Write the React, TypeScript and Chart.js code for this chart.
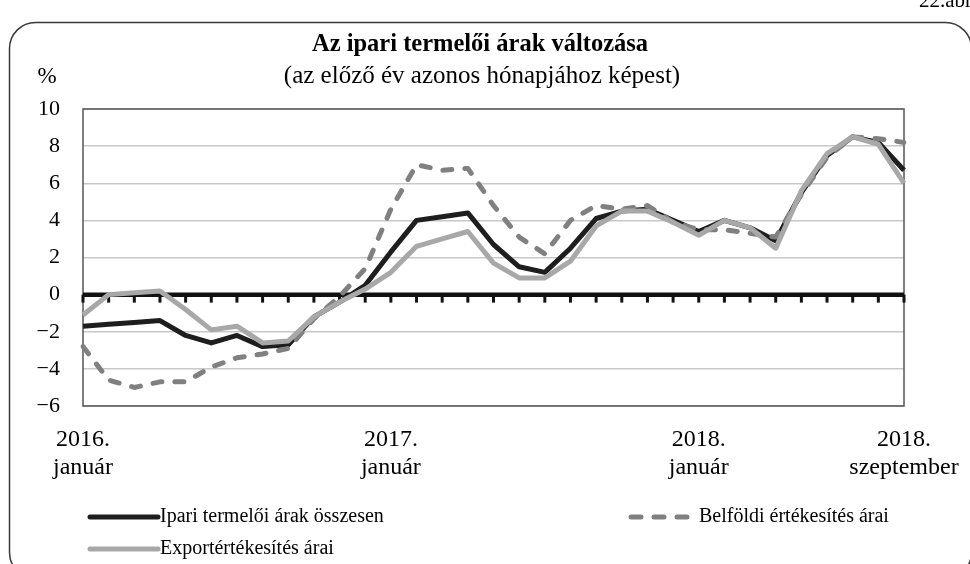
import React, { useEffect, useRef } from "react";
import { Chart, registerables } from "chart.js";

Chart.register(...registerables);

// ---- Data ----
const months = [
  "2016. január", "2016. február", "2016. március", "2016. április", "2016. május", "2016. június",
  "2016. július", "2016. augusztus", "2016. szeptember", "2016. október", "2016. november", "2016. december",
  "2017. január", "2017. február", "2017. március", "2017. április", "2017. május", "2017. június",
  "2017. július", "2017. augusztus", "2017. szeptember", "2017. október", "2017. november", "2017. december",
  "2018. január", "2018. február", "2018. március", "2018. április", "2018. május", "2018. június",
  "2018. július", "2018. augusztus", "2018. szeptember",
];

const ipariOsszesen = [
  -1.7, -1.6, -1.5, -1.4, -2.2, -2.6, -2.2, -2.8, -2.7, -1.2, -0.4, 0.5,
  2.3, 4.0, 4.2, 4.4, 2.7, 1.5, 1.2, 2.5, 4.1, 4.5, 4.6, 4.0,
  3.4, 4.0, 3.6, 2.9, 5.5, 7.5, 8.5, 8.2, 6.7,
];

const belfoldiArai = [
  -2.8, -4.6, -5.0, -4.7, -4.7, -3.9, -3.4, -3.2, -2.9, -1.3, -0.1, 1.4,
  4.6, 7.0, 6.7, 6.8, 4.8, 3.1, 2.2, 4.0, 4.8, 4.6, 4.8, 3.9,
  3.5, 3.5, 3.3, 3.1, 5.4, 7.4, 8.5, 8.4, 8.2,
];

const exportArai = [
  -1.1, 0.0, 0.1, 0.2, -0.8, -1.9, -1.7, -2.6, -2.5, -1.2, -0.4, 0.3,
  1.2, 2.6, 3.0, 3.4, 1.7, 0.9, 0.9, 1.8, 3.7, 4.5, 4.5, 3.9,
  3.2, 4.0, 3.6, 2.5, 5.6, 7.6, 8.5, 8.1, 6.0,
];

const seriesNames = [
  "Ipari termelői árak összesen",
  "Belföldi értékesítés árai",
  "Exportértékesítés árai",
];

const xTickIndex = [0, 12, 24, 32];
const xTickText = [
  ["2016.", "január"],
  ["2017.", "január"],
  ["2018.", "január"],
  ["2018.", "szeptember"],
];

const yMin = -6;
const yMax = 10;
const yStep = 2;

const titleText = "Az ipari termelői árak változása";
const subtitleText = "(az előző év azonos hónapjához képest)";
const unitText = "%";
const figureText = "22.ábra";

// ---- Styles ----
const FONT = "'Liberation Serif', 'DejaVu Serif', serif";
const C_BLACK = "#1e1e1e";
const C_DASH = "#808080";
const C_GRAY = "#a8a8a8";

const legendItems = [
  { text: seriesNames[0], color: C_BLACK, dash: [] as number[], x1: 90, x2: 158, tx: 160, y: 517 },
  { text: seriesNames[1], color: C_DASH, dash: [10, 13], x1: 631, x2: 690, tx: 699, y: 517 },
  { text: seriesNames[2], color: C_GRAY, dash: [] as number[], x1: 90, x2: 158, tx: 160, y: 549 },
];

const fmt = (v: number) => (v < 0 ? "\u2212" + Math.abs(v) : String(v));

const decor = {
  id: "decor",
  beforeDatasetsDraw(chart: any) {
    const { ctx, chartArea } = chart;
    const ys = chart.scales.y;
    const xs = chart.scales.x;
    const y0 = ys.getPixelForValue(0);
    ctx.save();
    // frame
    ctx.strokeStyle = "#555";
    ctx.lineWidth = 1.5;
    ctx.strokeRect(chartArea.left, chartArea.top, chartArea.right - chartArea.left, chartArea.bottom - chartArea.top);
    // zero line
    ctx.strokeStyle = "#111";
    ctx.lineWidth = 4.5;
    ctx.beginPath();
    ctx.moveTo(chartArea.left, y0);
    ctx.lineTo(chartArea.right, y0);
    ctx.stroke();
    // month tick marks
    ctx.lineWidth = 3;
    for (let i = 0; i < months.length; i++) {
      const x = xs.getPixelForValue(i);
      ctx.beginPath();
      ctx.moveTo(x, y0);
      ctx.lineTo(x, y0 + 8);
      ctx.stroke();
    }
    ctx.restore();
  },
  afterDraw(chart: any) {
    const { ctx } = chart;
    ctx.save();
    // outer rounded box
    ctx.strokeStyle = "#3a3a3a";
    ctx.lineWidth = 1.5;
    ctx.beginPath();
    (ctx as any).roundRect(9.5, 22.5, 962, 556, 26);
    ctx.stroke();
    // titles
    ctx.fillStyle = "#000";
    ctx.textBaseline = "middle";
    ctx.textAlign = "center";
    ctx.font = `bold 24.5px ${FONT}`;
    ctx.fillText(titleText, 480, 45);
    ctx.font = `25px ${FONT}`;
    ctx.fillText(subtitleText, 482, 76);
    ctx.font = `23px ${FONT}`;
    ctx.fillText(unitText, 47, 77);
    ctx.textAlign = "left";
    ctx.font = `21px ${FONT}`;
    ctx.fillText(figureText, 919, 1);
    // legend
    ctx.font = `20px ${FONT}`;
    for (const it of legendItems) {
      ctx.strokeStyle = it.color;
      ctx.lineWidth = 5;
      ctx.lineCap = "round";
      ctx.setLineDash(it.dash);
      ctx.beginPath();
      ctx.moveTo(it.x1, it.y);
      ctx.lineTo(it.x2, it.y);
      ctx.stroke();
      ctx.setLineDash([]);
      ctx.fillStyle = "#000";
      ctx.fillText(it.text, it.tx, it.y);
    }
    ctx.restore();
  },
};

export default function App() {
  const ref = useRef<HTMLCanvasElement>(null);
  useEffect(() => {
    const chart = new Chart(ref.current as HTMLCanvasElement, {
      type: "line",
      data: {
        labels: months,
        datasets: [
          {
            label: seriesNames[2],
            data: exportArai,
            borderColor: C_GRAY,
            borderWidth: 5,
            order: 0,
          },
          {
            label: seriesNames[1],
            data: belfoldiArai,
            borderColor: C_DASH,
            borderWidth: 5,
            borderDash: [9, 13],
            borderCapStyle: "round",
            order: 1,
          },
          {
            label: seriesNames[0],
            data: ipariOsszesen,
            borderColor: C_BLACK,
            borderWidth: 5,
            order: 2,
          },
        ],
      },
      options: {
        animation: false,
        responsive: false,
        devicePixelRatio: 1,
        layout: { padding: { top: 109, right: 66, left: 0, bottom: 0 } },
        elements: {
          point: { radius: 0 },
          line: { tension: 0, borderJoinStyle: "round" },
        },
        plugins: {
          legend: { display: false },
          tooltip: { enabled: false },
          title: { display: false },
        },
        scales: {
          x: {
            offset: false,
            grid: { display: false, drawTicks: false },
            border: { display: false },
            ticks: {
              autoSkip: false,
              maxRotation: 0,
              minRotation: 0,
              padding: 20,
              color: "#000",
              font: { family: FONT, size: 24, lineHeight: 1.16 },
              callback: (_v: any, i: number) => {
                const k = xTickIndex.indexOf(i);
                return k >= 0 ? xTickText[k] : "";
              },
            },
            afterFit: (s: any) => {
              s.height = 158;
              s.paddingLeft = 0;
              s.paddingRight = 0;
            },
          },
          y: {
            min: yMin,
            max: yMax,
            ticks: {
              stepSize: yStep,
              padding: 23,
              color: "#000",
              font: { family: FONT, size: 22 },
              callback: (v: any) => fmt(Number(v)),
            },
            grid: { color: "#c8c8c8", lineWidth: 1.5, drawTicks: false },
            border: { display: false },
            afterFit: (s: any) => {
              s.width = 83;
              s.paddingTop = 0;
              s.paddingBottom = 0;
            },
          },
        },
      },
      plugins: [decor],
    } as any);
    return () => chart.destroy();
  }, []);

  return (
    <div
      style={{
        position: "absolute",
        left: 0,
        top: 0,
        width: 970,
        height: 564,
        overflow: "hidden",
        background: "#fff",
      }}
    >
      <canvas ref={ref} width={970} height={564} style={{ display: "block" }} />
    </div>
  );
}
